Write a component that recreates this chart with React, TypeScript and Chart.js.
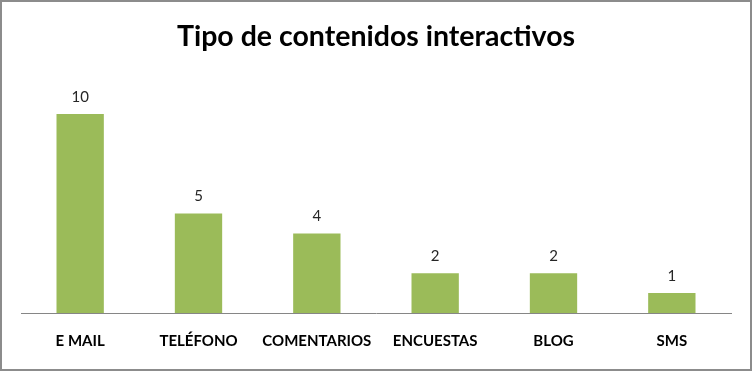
import React, { useEffect, useRef } from "react";
import { Chart, registerables } from "chart.js";

Chart.register(...registerables);

const categories = ["E MAIL", "TELÉFONO", "COMENTARIOS", "ENCUESTAS", "BLOG", "SMS"];
const values = [10, 5, 4, 2, 2, 1];
const titleText = "Tipo de contenidos interactivos";

const FONT = "Lato, 'Open Sans', sans-serif";

const valueLabels = {
  id: "valueLabels",
  afterDatasetsDraw(chart: any) {
    const ctx = chart.ctx;
    const meta = chart.getDatasetMeta(0);
    ctx.save();
    ctx.font = `400 15px ${FONT}`;
    ctx.fillStyle = "#262626";
    ctx.textAlign = "center";
    ctx.textBaseline = "middle";
    meta.data.forEach((bar: any, i: number) => {
      ctx.fillText(String(values[i]), bar.x, bar.y - 17);
    });
    ctx.restore();
  },
};

const frame = {
  id: "frame",
  beforeDraw(chart: any) {
    const ctx = chart.ctx;
    ctx.save();
    ctx.fillStyle = "#ffffff";
    ctx.fillRect(0, 0, chart.width, chart.height);
    ctx.strokeStyle = "#8c8c8c";
    ctx.lineWidth = 2;
    ctx.strokeRect(1, 1, chart.width - 2, chart.height - 2);
    ctx.restore();
  },
};

export default function App() {
  const ref = useRef<HTMLCanvasElement>(null);
  useEffect(() => {
    document.body.style.margin = "0";
    const chart = new Chart(ref.current!, {
      type: "bar",
      data: {
        labels: categories,
        datasets: [
          {
            data: values,
            backgroundColor: "#9BBB59",
            categoryPercentage: 1,
            barPercentage: 0.4,
          },
        ],
      },
      options: {
        responsive: false,
        animation: false,
        layout: { padding: { left: 21, right: 21, top: 0, bottom: 2 } },
        plugins: {
          legend: { display: false },
          tooltip: { enabled: false },
          title: {
            display: true,
            text: titleText,
            color: "#000000",
            font: { family: FONT, size: 28.5, weight: "bold" },
            padding: { top: 19.5, bottom: 60.3 },
          },
        },
        scales: {
          x: {
            grid: { display: false, drawTicks: false },
            border: { display: true, color: "#868686", width: 1 },
            ticks: {
              color: "#000000",
              padding: 19,
              font: { family: FONT, size: 15, weight: "bold" },
              maxRotation: 0,
              autoSkip: false,
            },
          },
          y: {
            display: false,
            min: 0,
            max: 10,
          },
        },
      },
      plugins: [frame, valueLabels],
    });
    return () => chart.destroy();
  }, []);
  return <canvas ref={ref} width={752} height={371} style={{ display: "block" }} />;
}
